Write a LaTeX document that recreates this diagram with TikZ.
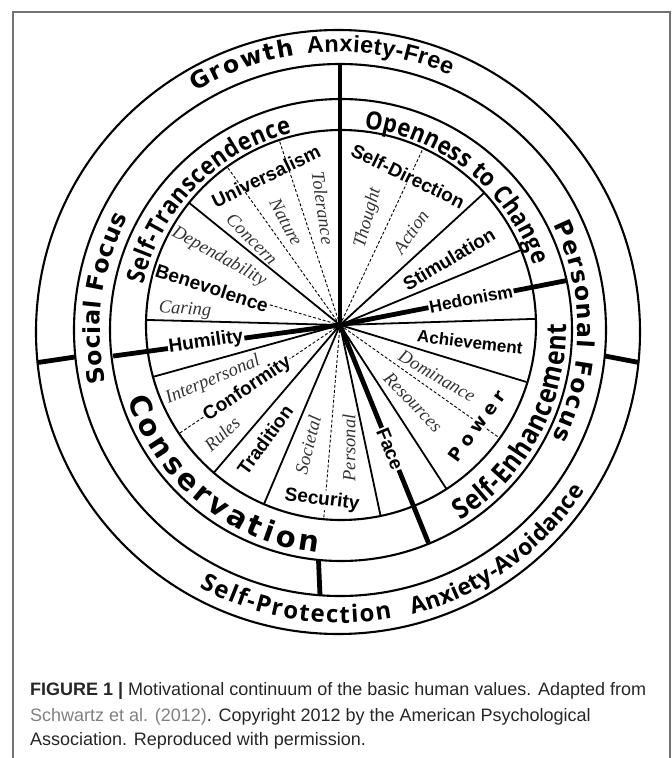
\documentclass[tikz,border=0pt]{standalone}
\usepackage{fontspec}
\setmainfont{Liberation Sans}
\newfontfamily\seriff{Liberation Serif}
\newfontfamily\verd{DejaVu Sans}
\newfontfamily\opens{Open Sans}
\newfontfamily\opensn{Open Sans}[FakeStretch=0.88]
\usetikzlibrary{decorations.text}
\newcommand\ringtext[6]{%
  \path[decorate,decoration={text along path,text align=fit to path,text={|#5|#6}}]
    ([shift={#1}]#3:#2) arc[start angle=#3,end angle=#4,radius=#2];}
\begin{document}
\begin{tikzpicture}[x=1pt,y=1pt,
  ring/.style={line width=2.1pt},
  spoke/.style={line width=1.8pt},
  heavy/.style={line width=4.8pt},
  dashline/.style={line width=0.9pt,dash pattern=on 3pt off 2pt},
  val/.style={font=\bfseries\fontsize{19}{19}\selectfont,inner sep=1pt},
  valw/.style={val,fill=white},
  sub/.style={font=\seriff\itshape\fontsize{18.5}{18.5}\selectfont,text=black!80,inner sep=0pt},
  captext/.style={anchor=base west,font=\fontsize{18}{18}\selectfont,text=black!85,inner sep=0pt}]
\useasboundingbox (-340,-433) rectangle (332,325);
\coordinate (hub) at (0,0);
% frame
\draw[black!55,line width=1.2pt] (-327,-433) -- (-327,313) -- (330,313) -- (330,-433);
% circles
\draw[ring] (1,0) circle[radius=195];
\draw[ring] (1,-5) circle[radius=231];
\draw[ring] (0,-5) circle[radius=266];
\draw[ring] (-2,-7) circle[radius=302];
% solid spokes
\foreach \a in {178.5,141,42.5,22.5,1.8,-17,-57,-78,247,229.5,195.5}
  \draw[spoke] (hub) -- (\a:195);
% dashed sub-dividers
\foreach \a in {125.5,108.2,164,214,265.2,-35.3,64.8}
  \draw[dashline] (hub) -- (\a:195);
% heavy dividers
\draw[heavy] (hub) -- (0,262);
\draw[heavy] (hub) -- (11.1:231);
\draw[heavy] (hub) -- (187.8:229);
\draw[heavy] (hub) -- (-67.9:235);
\coordinate (lo1) at (-302,-37.5); \coordinate (lo2) at (-265,-32);
\coordinate (ro1) at (265,-31); \coordinate (ro2) at (299,-37.5);
\coordinate (bo1) at (-21.5,-235); \coordinate (bo2) at (-20,-270.5);
\draw[heavy] (lo1) -- (lo2);
\draw[heavy] (ro1) -- (ro2);
\draw[heavy] (bo1) -- (bo2);
% outer ring texts
\ringtext{(-1,-6)}{279}{121}{99}{\verd\bfseries\fontsize{23.5}{23.5}\selectfont}{Growth}
\ringtext{(-1,-6)}{279}{96.5}{66.5}{\bfseries\fontsize{23.5}{23.5}\selectfont}{Anxiety-Free}
\ringtext{(-1,-6)}{292}{241.5}{280.5}{\opens\bfseries\fontsize{24}{24}\selectfont}{Self-Protection}
\ringtext{(-1,-6)}{293}{284.5}{327}{\opens\bfseries\fontsize{23}{23}\selectfont}{Anxiety-Avoidance}
% second ring texts
\ringtext{(0,-5)}{240}{192.7}{152}{\verd\bfseries\fontsize{23.5}{23.5}\selectfont}{Social Focus}
\ringtext{(0,-5)}{238}{26.2}{-27}{\verd\bfseries\fontsize{23.5}{23.5}\selectfont}{Personal Focus}
% third ring texts
\ringtext{(1,-5)}{203}{167}{104}{\opensn\bfseries\fontsize{25}{25}\selectfont}{Self-Transcendence}
\ringtext{(1,-5)}{203}{83.5}{18.5}{\opensn\bfseries\fontsize{25}{25}\selectfont}{Openness to Change}
\ringtext{(1,-5)}{225}{-58}{1.5}{\opensn\bfseries\fontsize{28}{28}\selectfont}{Self-Enhancement}
\ringtext{(1,-5)}{224}{198}{264}{\verd\bfseries\fontsize{29}{29}\selectfont}{Conservation}
% values
\node[val,rotate=26] (univ) at (-74,149) {Universalism};
\node[valw,rotate=-18] (bene) at (-128,37) {Benevolence};
\node[valw,rotate=8] (humi) at (-134,-17) {Humility};
\node[valw,rotate=34] (conf) at (-92.5,-64) {Conformity};
\node[val,rotate=54] (trad) at (-75,-115) {Tradition};
\node[valw,rotate=-7] (secu) at (-18,-175) {Security};
\node[valw,rotate=-68] (face) at (50,-124) {Face};
\node[valw,rotate=54,font=\verd\bfseries\fontsize{18}{18}\selectfont] (powr) at (137,-101) {P\kern5pt o\kern5pt w\kern5pt e\kern5pt r};
\node[val,rotate=-7,font=\bfseries\fontsize{17}{17}\selectfont] (achi) at (130,-17) {Achievement};
\node[valw,rotate=11,font=\bfseries\fontsize{17.5}{17.5}\selectfont] (hedo) at (131,26) {Hedonism};
\node[val,rotate=31] (stim) at (109,66) {Stimulation};
\node[valw,rotate=-26,inner sep=0.5pt] (sdir) at (68,149) {Self-Direction};
% sub-values
\node[sub,rotate=-29] (depe) at (-121,68) {Dependability};
\node[sub,rotate=-4] (cari) at (-155,15) {Caring};
\node[sub,rotate=-45] (conc) at (-88,86) {Concern};
\node[sub,rotate=-62] (natu) at (-54,103) {Nature};
\node[sub,rotate=-82] (tole) at (-17,117) {Tolerance};
\node[sub,rotate=75] (thou) at (28,107) {Thought};
\node[sub,rotate=55] (acti) at (71,93) {Action};
\node[sub,rotate=23] (inte) at (-127,-55) {Interpersonal};
\node[sub,rotate=43] (rule) at (-118,-109) {Rules};
\node[sub,rotate=76] (soci) at (-32,-120) {Societal};
\node[sub,rotate=90] (pers) at (9,-123) {Personal};
\node[sub,rotate=-30] (domi) at (97,-51) {Dominance};
\node[sub,rotate=-46] (reso) at (73,-77) {Resources};
% caption
\node[captext] (c1) at (-310,-370) {\textbf{FIGURE 1 |} Motivational continuum of the basic human values. Adapted from};
\node[captext] (c2) at (-310,-396.7) {{\color{black!50}Schwartz et al. (2012)}. Copyright 2012 by the American Psychological};
\node[captext] (c3) at (-310,-420) {Association. Reproduced with permission.};
\end{tikzpicture}
\end{document}
